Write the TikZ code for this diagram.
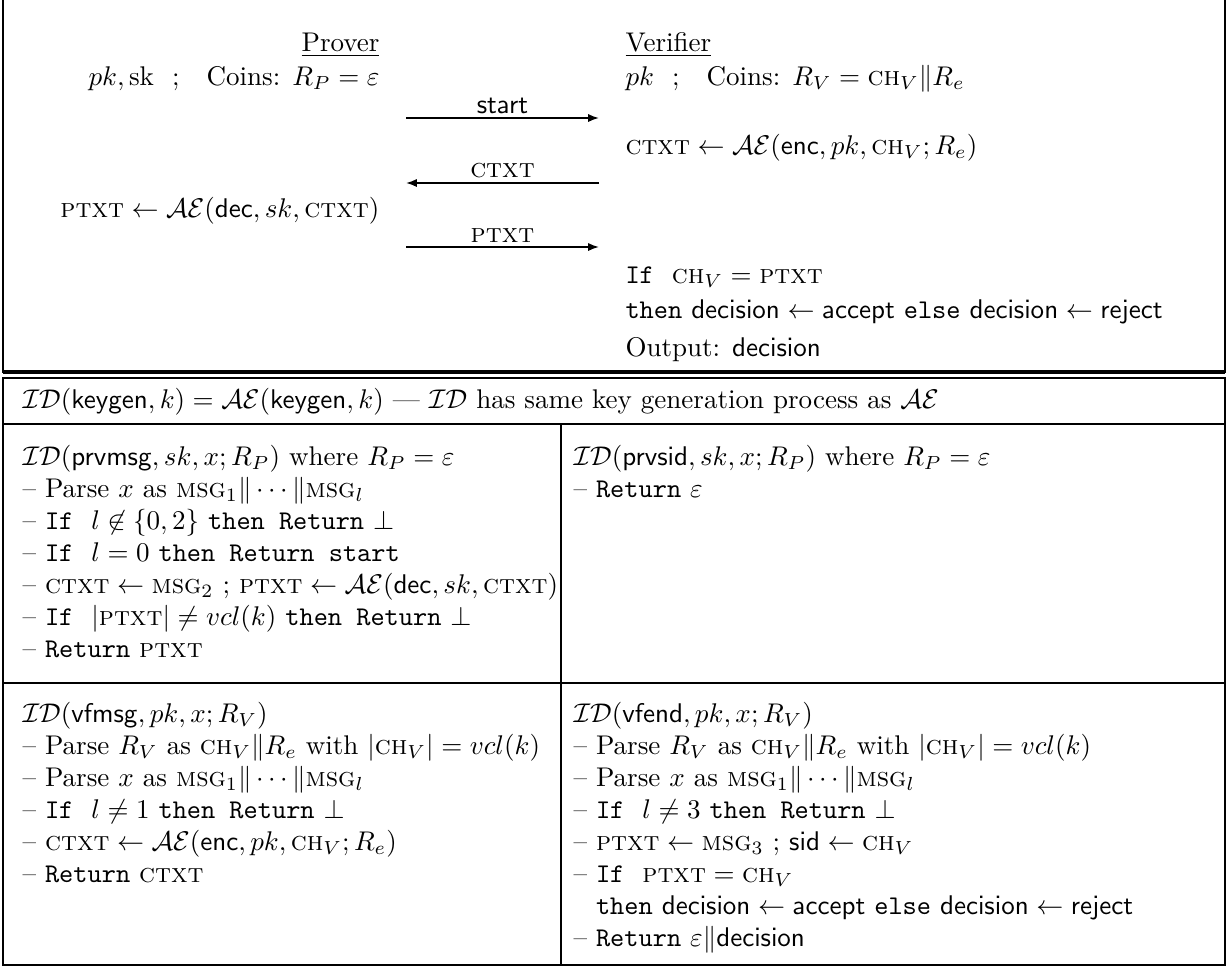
\documentclass[tikz,border=0pt]{standalone}
\usepackage{amsmath,amssymb}
\usetikzlibrary{arrows.meta,positioning}

\newcommand{\Ctxt}{\textsc{ctxt}}
\newcommand{\Ptxt}{\textsc{ptxt}}
\newcommand{\Ch}{\textsc{ch}}
\newcommand{\Msg}{\textsc{msg}}
\newcommand{\sAE}{\mathcal{AE}}
\newcommand{\sID}{\mathcal{ID}}

\begin{document}
\begin{tikzpicture}[
    x=0.37pt, y=-0.37pt,
    lbl/.style={anchor=base west, inner sep=0pt},
    rlbl/.style={anchor=base east, inner sep=0pt},
    arrow/.style={semithick,->,>={Latex[length=4pt,width=3pt]}},
    frame/.style={line width=0.75pt}
  ]
  \useasboundingbox (0,0) rectangle (1228,967);

  % Protocollo
  \draw [frame] (3,-10) rectangle (1225,372);
  \draw [line width=1.4pt] (3,372) -- (1225,372);

  \node (prover) [rlbl] at (380,51) {\underline{Prover}};
  \node (pkeys) [rlbl] at (380,85) {$pk, \mathrm{sk}$\ \ ;\quad Coins: $R_P = \varepsilon$};
  \node (verifier) [lbl] at (625,51) {\underline{Verifier}};
  \node (vkeys) [lbl] at (625,85) {$pk$\ \ ;\quad Coins: $R_V = \Ch_V \| R_e$};

  \coordinate (startL) at (406,118);
  \coordinate (startR) at (599,118);
  \coordinate (ctxtL) at (406,183);
  \coordinate (ctxtR) at (599,183);
  \coordinate (ptxtL) at (406,247);
  \coordinate (ptxtR) at (599,247);

  \node (venc) [lbl] at (625,154) {$\Ctxt \leftarrow \sAE(\mathsf{enc}, pk, \Ch_V; R_e)$};
  \node (pdec) [rlbl] at (380,217) {$\Ptxt \leftarrow \sAE(\mathsf{dec}, sk, \Ctxt)$};
  \node (vif) [lbl] at (625,283) {\texttt{If}\ \ $\Ch_V = \Ptxt$};
  \node (vthen) [lbl] at (625,318) {\texttt{then} $\mathsf{decision} \leftarrow \mathsf{accept}$ \texttt{else} $\mathsf{decision} \leftarrow \mathsf{reject}$};
  \node (vout) [lbl] at (625,356) {Output: $\mathsf{decision}$};

  % Messaggi
  \draw [arrow] (startL) -- node[above, inner sep=1.5pt] {$\mathsf{start}$} (startR);
  \draw [arrow] (ctxtR) -- node[above, inner sep=1.5pt] {\Ctxt} (ctxtL);
  \draw [arrow] (ptxtL) -- node[above, inner sep=1.5pt] {\Ptxt} (ptxtR);

  % Algoritmi
  \draw [frame] (3,378) rectangle (1225,965);
  \draw [frame] (3,424) -- (1225,424);
  \draw [frame] (3,683) -- (1225,683);
  \draw [frame] (561,424) -- (561,965);

  \node (kgen) [lbl] at (22,408) {$\sID(\mathsf{keygen}, k) = \sAE(\mathsf{keygen}, k)$ --- $\sID$ has same key generation process as $\sAE$};

  \node (pm1) [lbl] at (22,465) {$\sID(\mathsf{prvmsg}, sk, x; R_P)$ where $R_P = \varepsilon$};
  \node (pm2) [lbl] at (22,497) {-- Parse $x$ as $\Msg_1 \| \cdots \| \Msg_l$};
  \node (pm3) [lbl] at (22,529) {-- \texttt{If}\ \ $l \not\in \{0,2\}$ \texttt{then Return} $\bot$};
  \node (pm4) [lbl] at (22,561) {-- \texttt{If}\ \ $l = 0$ \texttt{then Return start}};
  \node (pm5) [lbl] at (22,593) {-- $\Ctxt \leftarrow \Msg_2$ ; $\Ptxt \leftarrow \sAE(\mathsf{dec}, sk, \Ctxt)$};
  \node (pm6) [lbl] at (22,625) {-- \texttt{If}\ \ $|\Ptxt| \neq vcl(k)$ \texttt{then Return} $\bot$};
  \node (pm7) [lbl] at (22,657) {-- \texttt{Return} \Ptxt};

  \node (ps1) [lbl] at (573,465) {$\sID(\mathsf{prvsid}, sk, x; R_P)$ where $R_P = \varepsilon$};
  \node (ps2) [lbl] at (573,497) {-- \texttt{Return} $\varepsilon$};

  \node (vm1) [lbl] at (22,722) {$\sID(\mathsf{vfmsg}, pk, x; R_V)$};
  \node (vm2) [lbl] at (22,754) {-- Parse $R_V$ as $\Ch_V \| R_e$ with $|\Ch_V| = vcl(k)$};
  \node (vm3) [lbl] at (22,786) {-- Parse $x$ as $\Msg_1 \| \cdots \| \Msg_l$};
  \node (vm4) [lbl] at (22,818) {-- \texttt{If}\ \ $l \neq 1$ \texttt{then Return} $\bot$};
  \node (vm5) [lbl] at (22,850) {-- $\Ctxt \leftarrow \sAE(\mathsf{enc}, pk, \Ch_V; R_e)$};
  \node (vm6) [lbl] at (22,882) {-- \texttt{Return} \Ctxt};

  \node (ve1) [lbl] at (573,722) {$\sID(\mathsf{vfend}, pk, x; R_V)$};
  \node (ve2) [lbl] at (573,754) {-- Parse $R_V$ as $\Ch_V \| R_e$ with $|\Ch_V| = vcl(k)$};
  \node (ve3) [lbl] at (573,786) {-- Parse $x$ as $\Msg_1 \| \cdots \| \Msg_l$};
  \node (ve4) [lbl] at (573,818) {-- \texttt{If}\ \ $l \neq 3$ \texttt{then Return} $\bot$};
  \node (ve5) [lbl] at (573,850) {-- $\Ptxt \leftarrow \Msg_3$ ; $\mathsf{sid} \leftarrow \Ch_V$};
  \node (ve6) [lbl] at (573,882) {-- \texttt{If}\ \ $\Ptxt = \Ch_V$};
  \node (ve7) [lbl] at (573,914) {\phantom{-- }\texttt{then} $\mathsf{decision} \leftarrow \mathsf{accept}$ \texttt{else} $\mathsf{decision} \leftarrow \mathsf{reject}$};
  \node (ve8) [lbl] at (573,946) {-- \texttt{Return} $\varepsilon \| \mathsf{decision}$};

\end{tikzpicture}
\end{document}
